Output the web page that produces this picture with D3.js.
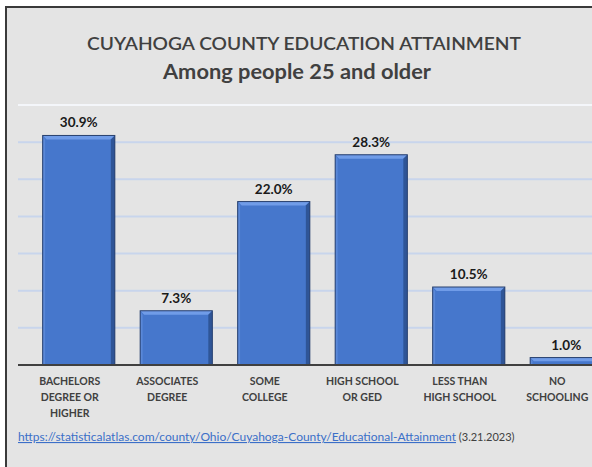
<!DOCTYPE html>
<html>
<head>
<meta charset="utf-8">
<script src="https://cdn.jsdelivr.net/npm/d3@7"></script>
<style>
  html, body { margin: 0; padding: 0; background: #ffffff; }
  svg { display: block; }
</style>
</head>
<body>
<script>
const categories = [
  ["BACHELORS", "DEGREE OR", "HIGHER"],
  ["ASSOCIATES", "DEGREE"],
  ["SOME", "COLLEGE"],
  ["HIGH SCHOOL", "OR GED"],
  ["LESS THAN", "HIGH SCHOOL"],
  ["NO", "SCHOOLING"]
];
const values = [30.9, 7.3, 22.0, 28.3, 10.5, 1.0];
const yTicks = [5, 10, 15, 20, 25, 30, 35];
const titleLine1 = "CUYAHOGA COUNTY EDUCATION ATTAINMENT";
const titleLine2 = "Among people 25 and older";
const sourceUrl = "https://statisticalatlas.com/county/Ohio/Cuyahoga-County/Educational-Attainment";
const sourceDate = " (3.21.2023)";

const W = 592, H = 467;
const svg = d3.select("body").append("svg").attr("width", W).attr("height", H);
const font = "Lato, 'Open Sans', sans-serif";

// panel
svg.append("rect").attr("x", 6).attr("y", 7).attr("width", W + 20).attr("height", H + 20)
  .attr("fill", "#e4e4e4").attr("stroke", "#3a3a3a").attr("stroke-width", 2);

// titles
svg.append("text").attr("x", 304).attr("y", 50).attr("text-anchor", "middle")
  .attr("font-family", font).attr("font-size", 17.5).attr("font-weight", 600)
  .attr("fill", "#404040").attr("textLength", 434).attr("lengthAdjust", "spacingAndGlyphs")
  .text(titleLine1);
svg.append("text").attr("x", 297).attr("y", 79).attr("text-anchor", "middle")
  .attr("font-family", font).attr("font-size", 21).attr("font-weight", 700)
  .attr("fill", "#404040").attr("textLength", 268).attr("lengthAdjust", "spacingAndGlyphs")
  .text(titleLine2);

// scales
const x = d3.scaleBand().domain(d3.range(values.length)).range([30, 615])
  .paddingInner(0.26).paddingOuter(0.13);
const y = d3.scaleLinear().domain([0, 35]).range([365, 105]);

// gridlines
svg.append("g").selectAll("line").data(yTicks).join("line")
  .attr("x1", 18).attr("x2", W)
  .attr("y1", d => y(d)).attr("y2", d => y(d))
  .attr("stroke", d => d === 35 ? "#f4f6fa" : "#c8d5ec").attr("stroke-width", 2);

// bars with bevel
const bev = 4;
const bars = svg.append("g").selectAll("g").data(values).join("g");
bars.each(function (d, i) {
  const g = d3.select(this);
  const x0 = x(i), w = x.bandwidth(), y0 = y(d), h = y(0) - y(d);
  const b = Math.min(bev, h / 2);
  g.append("rect").attr("x", x0).attr("y", y0).attr("width", w).attr("height", h).attr("fill", "#4677cc");
  g.append("polygon").attr("points", [[x0, y0], [x0 + w, y0], [x0 + w - b, y0 + b], [x0 + b, y0 + b]].join(" "))
    .attr("fill", "#709ce8");
  g.append("polygon").attr("points", [[x0, y0], [x0 + b * 0.6, y0 + b], [x0 + b * 0.6, y0 + h], [x0, y0 + h]].join(" "))
    .attr("fill", "#5a88d8");
  g.append("polygon").attr("points", [[x0 + w, y0], [x0 + w, y0 + h], [x0 + w - b, y0 + h], [x0 + w - b, y0 + b]].join(" "))
    .attr("fill", "#2f5597");
  g.append("rect").attr("x", x0).attr("y", y0).attr("width", w).attr("height", h)
    .attr("fill", "none").attr("stroke", "#29416e").attr("stroke-width", 1);
});

// baseline
svg.append("line").attr("x1", 18).attr("x2", W).attr("y1", y(0)).attr("y2", y(0))
  .attr("stroke", "#404040").attr("stroke-width", 2);

// value labels
svg.append("g").selectAll("text").data(values).join("text")
  .attr("x", (d, i) => x(i) + x.bandwidth() / 2)
  .attr("y", d => y(d) - 8)
  .attr("text-anchor", "middle").attr("font-family", font).attr("font-size", 13.5)
  .attr("font-weight", 700).attr("fill", "#1a1a1a")
  .text(d => d.toFixed(1) + "%");

// category labels (sit slightly left of bar centres, as in the original)
const labelShift = -9;
const cat = svg.append("g").selectAll("text").data(categories).join("text")
  .attr("text-anchor", "middle").attr("font-family", font).attr("font-size", 10.5)
  .attr("font-weight", 700).attr("fill", "#404040");
cat.each(function (lines, i) {
  const t = d3.select(this);
  lines.forEach((ln, k) => {
    t.append("tspan").attr("x", x(i) + x.bandwidth() / 2 + labelShift).attr("y", 385 + k * 16).text(ln);
  });
});

// source
const src = svg.append("text").attr("x", 18).attr("y", 441)
  .attr("font-family", font).attr("font-size", 11);
src.append("tspan").attr("fill", "#3b6fc8").attr("text-decoration", "underline")
  .attr("textLength", 438).attr("lengthAdjust", "spacingAndGlyphs").text(sourceUrl);
src.append("tspan").attr("fill", "#404040").text(sourceDate);
</script>
</body>
</html>
